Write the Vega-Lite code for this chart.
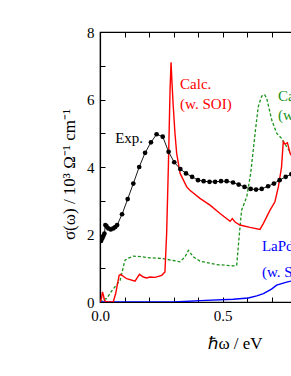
{
  "$schema": "https://vega.github.io/schema/vega-lite/v6.json",
  "autosize": "none",
  "width": 245,
  "height": 270,
  "padding": {"left": 100, "top": 32, "right": 0, "bottom": 74},
  "background": "white",
  "config": {
    "font": "Liberation Serif",
    "view": {"stroke": "black", "strokeWidth": 1.2},
    "axis": {"labelFont": "Liberation Serif", "titleFont": "Liberation Serif"},
    "style": {
      "guide-label": {"font": "Liberation Serif", "fontSize": 15, "fill": "black"},
      "guide-title": {"font": "Liberation Serif", "fontSize": 17, "fill": "black", "fontWeight": "normal"}
    }
  },
  "datasets": {
    "curves": [
      {"series": "exp", "E": 0.004, "s": 1.81},
      {"series": "exp", "E": 0.006, "s": 1.85},
      {"series": "exp", "E": 0.010, "s": 1.9},
      {"series": "exp", "E": 0.014, "s": 1.96},
      {"series": "exp", "E": 0.018, "s": 2.03},
      {"series": "exp", "E": 0.022, "s": 2.28},
      {"series": "exp", "E": 0.027, "s": 2.24},
      {"series": "exp", "E": 0.034, "s": 2.18},
      {"series": "exp", "E": 0.044, "s": 2.15},
      {"series": "exp", "E": 0.054, "s": 2.18},
      {"series": "exp", "E": 0.062, "s": 2.22},
      {"series": "exp", "E": 0.070, "s": 2.28},
      {"series": "exp", "E": 0.090, "s": 2.6},
      {"series": "exp", "E": 0.113, "s": 3.05},
      {"series": "exp", "E": 0.136, "s": 3.51},
      {"series": "exp", "E": 0.160, "s": 4.0},
      {"series": "exp", "E": 0.184, "s": 4.42},
      {"series": "exp", "E": 0.208, "s": 4.73},
      {"series": "exp", "E": 0.231, "s": 4.97},
      {"series": "exp", "E": 0.256, "s": 4.9},
      {"series": "exp", "E": 0.280, "s": 4.45},
      {"series": "exp", "E": 0.303, "s": 4.14},
      {"series": "exp", "E": 0.328, "s": 3.94},
      {"series": "exp", "E": 0.351, "s": 3.81},
      {"series": "exp", "E": 0.376, "s": 3.71},
      {"series": "exp", "E": 0.400, "s": 3.61},
      {"series": "exp", "E": 0.423, "s": 3.58},
      {"series": "exp", "E": 0.447, "s": 3.56},
      {"series": "exp", "E": 0.470, "s": 3.56},
      {"series": "exp", "E": 0.494, "s": 3.58},
      {"series": "exp", "E": 0.517, "s": 3.58},
      {"series": "exp", "E": 0.543, "s": 3.54},
      {"series": "exp", "E": 0.566, "s": 3.48},
      {"series": "exp", "E": 0.590, "s": 3.41},
      {"series": "exp", "E": 0.615, "s": 3.35},
      {"series": "exp", "E": 0.637, "s": 3.33},
      {"series": "exp", "E": 0.660, "s": 3.35},
      {"series": "exp", "E": 0.686, "s": 3.43},
      {"series": "exp", "E": 0.710, "s": 3.51},
      {"series": "exp", "E": 0.733, "s": 3.61},
      {"series": "exp", "E": 0.758, "s": 3.71},
      {"series": "exp", "E": 0.781, "s": 3.79},
      {"series": "exp", "E": 0.805, "s": 3.88},

      {"series": "soi", "E": 0.0, "s": 0.0},
      {"series": "soi", "E": 0.006, "s": 0.1},
      {"series": "soi", "E": 0.010, "s": 0.3},
      {"series": "soi", "E": 0.014, "s": 0.2},
      {"series": "soi", "E": 0.018, "s": 0.05},
      {"series": "soi", "E": 0.027, "s": 0.0},
      {"series": "soi", "E": 0.054, "s": 0.0},
      {"series": "soi", "E": 0.064, "s": 0.25},
      {"series": "soi", "E": 0.078, "s": 0.79},
      {"series": "soi", "E": 0.084, "s": 0.82},
      {"series": "soi", "E": 0.109, "s": 0.69},
      {"series": "soi", "E": 0.143, "s": 0.62},
      {"series": "soi", "E": 0.161, "s": 0.82},
      {"series": "soi", "E": 0.177, "s": 0.74},
      {"series": "soi", "E": 0.190, "s": 0.71},
      {"series": "soi", "E": 0.204, "s": 0.74},
      {"series": "soi", "E": 0.225, "s": 0.73},
      {"series": "soi", "E": 0.252, "s": 0.79},
      {"series": "soi", "E": 0.265, "s": 0.89},
      {"series": "soi", "E": 0.272, "s": 2.03},
      {"series": "soi", "E": 0.279, "s": 4.0},
      {"series": "soi", "E": 0.286, "s": 6.3},
      {"series": "soi", "E": 0.290, "s": 7.1},
      {"series": "soi", "E": 0.294, "s": 6.48},
      {"series": "soi", "E": 0.299, "s": 5.79},
      {"series": "soi", "E": 0.306, "s": 5.0},
      {"series": "soi", "E": 0.313, "s": 4.4},
      {"series": "soi", "E": 0.327, "s": 3.81},
      {"series": "soi", "E": 0.354, "s": 3.41},
      {"series": "soi", "E": 0.367, "s": 3.31},
      {"series": "soi", "E": 0.408, "s": 3.07},
      {"series": "soi", "E": 0.449, "s": 2.87},
      {"series": "soi", "E": 0.490, "s": 2.62},
      {"series": "soi", "E": 0.531, "s": 2.39},
      {"series": "soi", "E": 0.540, "s": 2.47},
      {"series": "soi", "E": 0.551, "s": 2.37},
      {"series": "soi", "E": 0.571, "s": 2.28},
      {"series": "soi", "E": 0.612, "s": 2.21},
      {"series": "soi", "E": 0.653, "s": 2.15},
      {"series": "soi", "E": 0.667, "s": 2.33},
      {"series": "soi", "E": 0.694, "s": 2.72},
      {"series": "soi", "E": 0.714, "s": 2.97},
      {"series": "soi", "E": 0.728, "s": 3.41},
      {"series": "soi", "E": 0.741, "s": 4.0},
      {"series": "soi", "E": 0.748, "s": 4.75},
      {"series": "soi", "E": 0.755, "s": 4.68},
      {"series": "soi", "E": 0.765, "s": 4.72},
      {"series": "soi", "E": 0.776, "s": 4.4},
      {"series": "soi", "E": 0.795, "s": 4.2},

      {"series": "nosoi", "E": 0.0, "s": 0.0},
      {"series": "nosoi", "E": 0.014, "s": 0.08},
      {"series": "nosoi", "E": 0.027, "s": 0.1},
      {"series": "nosoi", "E": 0.045, "s": 0.3},
      {"series": "nosoi", "E": 0.061, "s": 0.45},
      {"series": "nosoi", "E": 0.082, "s": 0.64},
      {"series": "nosoi", "E": 0.102, "s": 1.24},
      {"series": "nosoi", "E": 0.116, "s": 1.30},
      {"series": "nosoi", "E": 0.136, "s": 1.36},
      {"series": "nosoi", "E": 0.170, "s": 1.34},
      {"series": "nosoi", "E": 0.204, "s": 1.31},
      {"series": "nosoi", "E": 0.252, "s": 1.29},
      {"series": "nosoi", "E": 0.299, "s": 1.23},
      {"series": "nosoi", "E": 0.327, "s": 1.19},
      {"series": "nosoi", "E": 0.347, "s": 1.34},
      {"series": "nosoi", "E": 0.361, "s": 1.53},
      {"series": "nosoi", "E": 0.381, "s": 1.34},
      {"series": "nosoi", "E": 0.408, "s": 1.21},
      {"series": "nosoi", "E": 0.476, "s": 1.11},
      {"series": "nosoi", "E": 0.544, "s": 1.07},
      {"series": "nosoi", "E": 0.558, "s": 1.09},
      {"series": "nosoi", "E": 0.569, "s": 2.03},
      {"series": "nosoi", "E": 0.578, "s": 2.72},
      {"series": "nosoi", "E": 0.599, "s": 3.12},
      {"series": "nosoi", "E": 0.615, "s": 3.81},
      {"series": "nosoi", "E": 0.633, "s": 5.0},
      {"series": "nosoi", "E": 0.646, "s": 5.79},
      {"series": "nosoi", "E": 0.660, "s": 6.1},
      {"series": "nosoi", "E": 0.671, "s": 6.15},
      {"series": "nosoi", "E": 0.680, "s": 6.05},
      {"series": "nosoi", "E": 0.701, "s": 5.39},
      {"series": "nosoi", "E": 0.721, "s": 5.0},
      {"series": "nosoi", "E": 0.741, "s": 4.85},
      {"series": "nosoi", "E": 0.762, "s": 4.6},
      {"series": "nosoi", "E": 0.780, "s": 4.4},
      {"series": "nosoi", "E": 0.795, "s": 4.25},

      {"series": "lapdbi", "E": 0.0, "s": 0.0},
      {"series": "lapdbi", "E": 0.30, "s": 0.0},
      {"series": "lapdbi", "E": 0.408, "s": 0.04},
      {"series": "lapdbi", "E": 0.544, "s": 0.08},
      {"series": "lapdbi", "E": 0.605, "s": 0.12},
      {"series": "lapdbi", "E": 0.640, "s": 0.18},
      {"series": "lapdbi", "E": 0.667, "s": 0.25},
      {"series": "lapdbi", "E": 0.700, "s": 0.38},
      {"series": "lapdbi", "E": 0.721, "s": 0.5},
      {"series": "lapdbi", "E": 0.762, "s": 0.59},
      {"series": "lapdbi", "E": 0.780, "s": 0.62},
      {"series": "lapdbi", "E": 0.800, "s": 0.64}
    ],
    "labels": [
      {"series": "exp", "E": 0.062, "s": 4.86, "text": "Exp."},
      {"series": "soi", "E": 0.327, "s": 6.46, "text": "Calc."},
      {"series": "soi", "E": 0.327, "s": 5.87, "text": "(w. SOI)"},
      {"series": "nosoi", "E": 0.727, "s": 6.1, "text": "Calc."},
      {"series": "nosoi", "E": 0.727, "s": 5.54, "text": "(w/o SOI)"},
      {"series": "lapdbi", "E": 0.661, "s": 1.65, "text": "LaPdBi"},
      {"series": "lapdbi", "E": 0.661, "s": 0.88, "text": "(w. SOI)"}
    ]
  },
  "resolve": {"axis": {"x": "independent", "y": "independent"}},
  "layer": [
    {
      "data": {"name": "curves"},
      "transform": [{"filter": "datum.series === 'nosoi'"}],
      "mark": {"type": "line", "color": "#1b931b", "strokeWidth": 1.3, "strokeDash": [3, 2], "clip": true},
      "encoding": {
        "x": {"field": "E", "type": "quantitative", "scale": {"domain": [0, 1.0], "nice": false},
          "axis": {"values": [0, 0.1, 0.2, 0.3, 0.4, 0.5, 0.6, 0.7, 0.8, 0.9, 1.0], "format": ".1f",
            "labelExpr": "(round(datum.value*10) % 5 == 0) ? datum.label : ''",
            "labelFont": "Liberation Serif", "labelFontSize": 15, "labelColor": "black", "labelFlush": false,
            "labelPadding": 11, "grid": false, "tickSize": -5, "tickColor": "black", "tickWidth": 1,
            "domainColor": "black", "domainWidth": 1.2,
            "title": "ℏω / eV", "titleFont": "Liberation Serif", "titleFontSize": 17, "titleFontWeight": "normal",
            "titleColor": "black", "titleX": 135, "titleY": 41, "titleBaseline": "middle", "titleAlign": "center"}},
        "y": {"field": "s", "type": "quantitative", "scale": {"domain": [0, 8], "nice": false},
          "axis": {"values": [0, 1, 2, 3, 4, 5, 6, 7, 8],
            "labelExpr": "datum.value % 2 == 0 ? datum.label : ''",
            "labelFont": "Liberation Serif", "labelFontSize": 15, "labelColor": "black", "labelFlush": false,
            "labelPadding": 11, "grid": false, "tickSize": -5, "tickColor": "black", "tickWidth": 1,
            "domainColor": "black", "domainWidth": 1.2,
            "title": "σ(ω)  / 10³ Ω⁻¹ cm⁻¹", "titleFont": "Liberation Serif", "titleFontSize": 17, "titleFontWeight": "normal",
            "titleColor": "black", "titleX": -31, "titleY": 142, "titleBaseline": "middle", "titleAlign": "center", "titleAngle": -90}}
      }
    },
    {
      "data": {"name": "curves"},
      "transform": [{"filter": "datum.series === 'lapdbi'"}],
      "mark": {"type": "line", "color": "#0000ff", "strokeWidth": 1.4, "clip": true},
      "encoding": {
        "x": {"field": "E", "type": "quantitative",
          "axis": {"orient": "top", "values": [0, 0.1, 0.2, 0.3, 0.4, 0.5, 0.6, 0.7, 0.8, 0.9, 1.0], "labels": false, "title": null, "domain": false, "grid": false, "tickSize": -5, "tickColor": "black", "tickWidth": 1}},
        "y": {"field": "s", "type": "quantitative",
          "axis": {"orient": "right", "values": [0, 1, 2, 3, 4, 5, 6, 7, 8], "labels": false, "title": null, "domain": false, "grid": false, "tickSize": -5, "tickColor": "black", "tickWidth": 1}}
      }
    },
    {
      "data": {"name": "curves"},
      "transform": [{"filter": "datum.series === 'soi'"}],
      "mark": {"type": "line", "color": "#ff0000", "strokeWidth": 1.4, "clip": true},
      "encoding": {
        "x": {"field": "E", "type": "quantitative", "axis": null},
        "y": {"field": "s", "type": "quantitative", "axis": null}
      }
    },
    {
      "data": {"name": "curves"},
      "transform": [{"filter": "datum.series === 'exp'"}],
      "mark": {"type": "line", "color": "#000000", "strokeWidth": 0.9, "point": {"filled": true, "color": "#000000", "size": 22}, "clip": true},
      "encoding": {
        "x": {"field": "E", "type": "quantitative", "axis": null},
        "y": {"field": "s", "type": "quantitative", "axis": null}
      }
    },
    {
      "data": {"name": "labels"},
      "mark": {"type": "text", "align": "left", "baseline": "middle", "fontSize": 15, "font": "Liberation Serif"},
      "encoding": {
        "x": {"field": "E", "type": "quantitative", "axis": null},
        "y": {"field": "s", "type": "quantitative", "axis": null},
        "text": {"field": "text"},
        "color": {"field": "series", "type": "nominal", "legend": null,
          "scale": {"domain": ["exp", "soi", "nosoi", "lapdbi"], "range": ["#000000", "#ff0000", "#1b931b", "#0000ff"]}}
      }
    }
  ]
}
